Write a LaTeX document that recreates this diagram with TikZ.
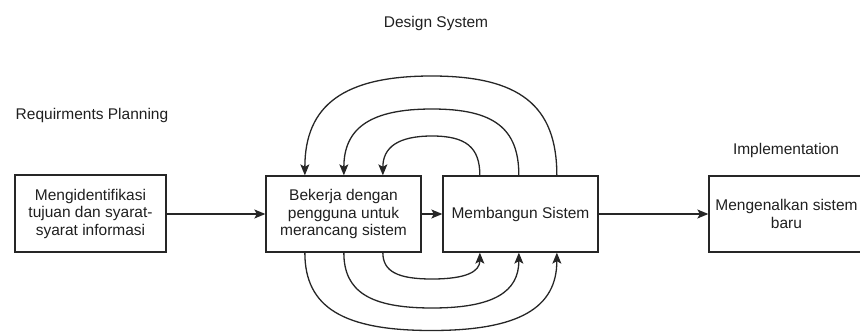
\documentclass[tikz,border=0pt]{standalone}
\usepackage{fontspec}
\setmainfont{Liberation Sans}
\usetikzlibrary{arrows.meta}
\begin{document}
\begin{tikzpicture}[x=1pt,y=-1pt,
  every node/.style={font=\fontsize{15.5}{17.5}\selectfont, text=black!88},
  stage/.style={draw=black!85, line width=1.3pt, inner sep=0pt, align=center,
    minimum width=155pt, minimum height=76pt},
  flow/.style={draw=black!85, line width=1.3pt,
    -{Stealth[length=11pt,width=9pt,inset=2.5pt]}},
  loop/.style={flow},
  title/.style={inner sep=0pt}]
\useasboundingbox (0,0) rectangle (860,332);
\clip (0,0) rectangle (860,332);

% phase titles
\node[title] (tDesign) at (436,23) {Design System};
\node[title] (tReq) at (92,115.5) {Requirments Planning};
\node[title] (tImpl) at (786,150.5) {Implementation};

% stages
\node[stage, minimum width=151pt, minimum height=77pt] (req) at (90.5,213.5)
  {Mengidentifikasi\\tujuan dan syarat-\\syarat informasi};
\node[stage] (work) at (343.5,214) {Bekerja dengan\\pengguna untuk\\merancang sistem};
\node[stage] (build) at (520.5,214) {Membangun Sistem};
\node[stage] (impl) at (786.5,214) {Mengenalkan sistem\\baru};

% forward flow
\draw[flow] (req.east |- 0,214) -- (work.west |- 0,214);
\draw[flow] (work) -- (build);
\draw[flow] (build) -- (impl);

% loop end points on the two design boxes
\coordinate (wA) at ([xshift=39.5pt]work.west);
\coordinate (wB) at ([xshift=78.5pt]work.west);
\coordinate (wC) at ([xshift=117.5pt]work.west);
\coordinate (bA) at ([xshift=37.5pt]build.west);
\coordinate (bB) at ([xshift=76.5pt]build.west);
\coordinate (bC) at ([xshift=114.5pt]build.west);

% feedback loops over the top: build -> work
\coordinate (pTi) at (432,136);
\coordinate (pTm) at (432,109);
\coordinate (pTo) at (431.5,76);
\draw[loop] (bA |- build.north) .. controls +(0,-28) and +(34,0) .. (pTi)
  .. controls +(-34,0) and +(0,-28) .. (wC |- work.north);
\draw[loop] (bB |- build.north) .. controls +(0,-47) and +(62,0) .. (pTm)
  .. controls +(-62,0) and +(0,-47) .. (wB |- work.north);
\draw[loop] (bC |- build.north) .. controls +(0,-70) and +(88,0) .. (pTo)
  .. controls +(-88,0) and +(0,-70) .. (wA |- work.north);

% iteration loops underneath: work -> build
\coordinate (pBi) at (432,279);
\coordinate (pBm) at (432,308);
\coordinate (pBo) at (431.5,330.5);
\draw[loop] (wC |- work.south) .. controls +(0,19) and +(-34,0) .. (pBi)
  .. controls +(34,0) and +(0,19) .. (bA |- build.south);
\draw[loop] (wB |- work.south) .. controls +(0,39) and +(-62,0) .. (pBm)
  .. controls +(62,0) and +(0,39) .. (bB |- build.south);
\draw[loop] (wA |- work.south) .. controls +(0,55) and +(-88,0) .. (pBo)
  .. controls +(88,0) and +(0,55) .. (bC |- build.south);
\end{tikzpicture}
\end{document}
